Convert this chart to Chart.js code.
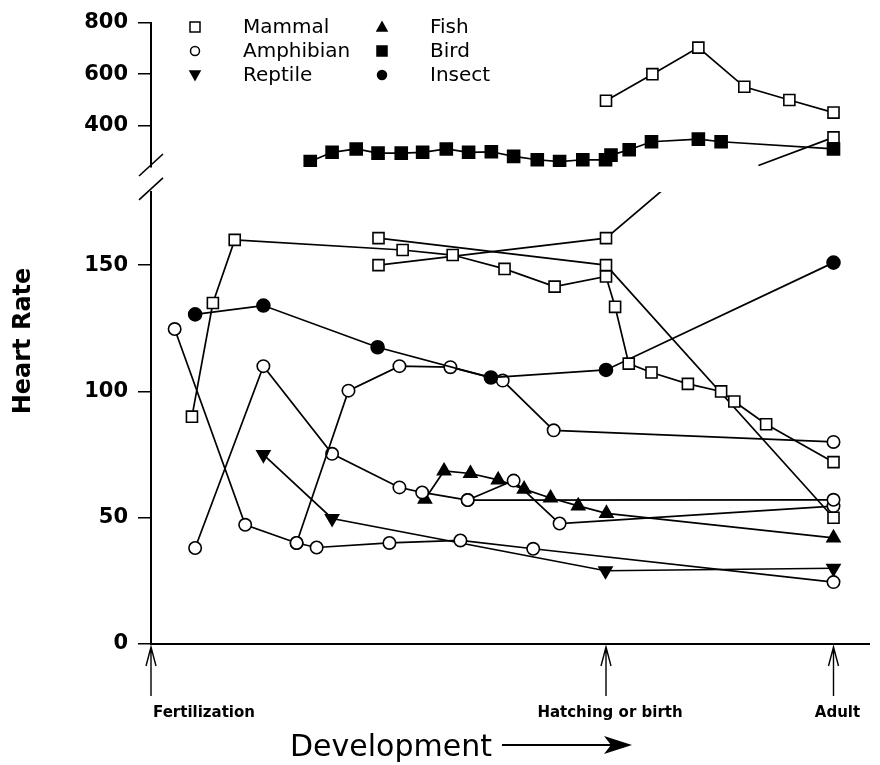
<!DOCTYPE html>
<html>
<head>
<meta charset="utf-8">
<script src="https://cdn.jsdelivr.net/npm/chart.js@4.4.0/dist/chart.umd.min.js"></script>
<style>
html, body { margin: 0; padding: 0; background: #fff; }
#wrap { position: relative; width: 880px; height: 765px; }
</style>
</head>
<body>
<div id="wrap"><canvas id="heartChart"></canvas></div>
<script>
// development axis: fertilization = 0, hatching or birth = 100, adult = 150
const stageNames = ['Fertilization', 'Hatching or birth', 'Adult'];
const stageAt = [0, 100, 150];
const lowerTicks = [0, 50, 100, 150];
const upperTicks = [400, 600, 800];

// [stage, heart rate]
const mammalA = [[9, 90], [13.6, 135], [18.4, 160], [55.3, 156], [66.3, 154], [77.7, 148.5], [88.7, 141.5], [100, 145.5], [102, 133.5], [105, 111], [110, 107.5], [118, 103], [125.3, 100], [128.2, 96], [135.2, 87], [150, 72]];
const mammalB = [[50, 160.7], [100, 150], [150, 50]];
const mammalC = [[50, 150], [100, 160.7], [112.3, 179.5]];
const mammalHigh = [[100, 497], [110.2, 600], [120.3, 703], [130.4, 551], [140.3, 500], [150, 451]];
const mammalHighStub = [[133.5, 246], [150, 355]];
const bird = [[35, 261], [39.8, 297], [45.1, 310], [49.9, 294], [55, 294], [59.7, 297], [64.9, 310], [69.8, 297], [74.8, 299], [79.7, 281], [84.9, 268], [89.8, 261], [94.9, 268], [99.9, 268], [101.1, 286], [105.1, 307], [110, 338], [120.3, 348], [125.3, 338], [150, 310]];
const insect = [[9.7, 130.5], [24.7, 134], [49.8, 117.5], [74.7, 105.5], [100, 108.5], [150, 151]];
const amphA = [[5.2, 124.7], [20.7, 47.2], [32, 40], [36.4, 38.2], [52.4, 40], [68, 41], [84, 37.7], [150, 24.5]];
const amphB = [[32, 40], [43.4, 100.3], [54.6, 110], [65.8, 109.6], [77.3, 104.3], [88.5, 84.6], [150, 80]];
const amphC = [[9.7, 38], [24.7, 110], [39.8, 75.3], [54.6, 62], [59.6, 60], [69.6, 57], [150, 57.1]];
const amphD = [[69.6, 57], [79.7, 64.7], [89.8, 47.7], [150, 54.6]];
const fish = [[60.2, 57.3], [64.4, 68.5], [70.2, 67.5], [76.3, 65], [82, 61.3], [87.8, 57.8], [93.9, 54.7], [100.1, 51.7], [150, 42]];
const reptile = [[24.7, 75], [39.8, 49.7], [99.9, 29], [150, 30]];

const legendCols = [['Mammal', 'Amphibian', 'Reptile'], ['Fish', 'Bird', 'Insect']];

const markers = {
	Mammal: { style: 'rect', radius: 7.8, fill: '#fff', rot: 0 },
	Amphibian: { style: 'circle', radius: 6.2, fill: '#fff', rot: 0 },
	Reptile: { style: 'triangle', radius: 7.5, fill: '#000', rot: 180 },
	Fish: { style: 'triangle', radius: 7.5, fill: '#000', rot: 0 },
	Bird: { style: 'rect', radius: 8.5, fill: '#000', rot: 0 },
	Insect: { style: 'circle', radius: 6.5, fill: '#000', rot: 0 }
};

const FONT = '"DejaVu Sans", "Liberation Sans", Arial, sans-serif';

function series(kind, pts, axis, hidden) {
	const m = markers[kind];
	return {
		label: kind,
		data: pts.map(p => ({ x: p[0], y: p[1] })),
		yAxisID: axis,
		borderColor: '#000',
		borderWidth: 1.7,
		tension: 0,
		fill: false,
		pointStyle: m.style,
		pointRotation: m.rot,
		pointRadius: pts.map((p, i) => (hidden && hidden.includes(i)) ? 0 : m.radius),
		pointHoverRadius: 0,
		pointBackgroundColor: m.fill,
		pointBorderColor: '#000',
		pointBorderWidth: 1.6
	};
}

function tickAxis(list, min, max, weight) {
	return {
		type: 'linear',
		position: 'left',
		stack: 'rate',
		stackWeight: weight,
		min: min,
		max: max,
		afterBuildTicks: s => { s.ticks = list.map(v => ({ value: v })); },
		afterFit: s => { s.width = 80; },
		ticks: { color: '#000', padding: 10, font: { family: FONT, size: 21, weight: 'bold' } },
		grid: { drawOnChartArea: false, drawTicks: true, tickLength: 13, color: '#000', lineWidth: 1.5 },
		border: { display: true, color: '#000', width: 2 }
	};
}

function drawMarker(ctx, kind, x, y, r) {
	const m = markers[kind];
	ctx.save();
	ctx.fillStyle = m.fill;
	ctx.strokeStyle = '#000';
	ctx.lineWidth = 1.5;
	ctx.beginPath();
	if (m.style === 'rect') {
		ctx.rect(x - r, y - r, 2 * r, 2 * r);
	} else if (m.style === 'circle') {
		ctx.arc(x, y, r, 0, Math.PI * 2);
	} else {
		const d = m.rot ? -1 : 1;
		ctx.moveTo(x, y - d * r);
		ctx.lineTo(x - r, y + d * r * 0.8);
		ctx.lineTo(x + r, y + d * r * 0.8);
		ctx.closePath();
	}
	ctx.fill();
	ctx.stroke();
	ctx.restore();
}

const decor = {
	id: 'decor',
	afterDraw(chart) {
		const ctx = chart.ctx;
		const xs = chart.scales.x;
		const gap = chart.scales.gap;
		const axisX = chart.chartArea.left;
		ctx.save();
		ctx.strokeStyle = '#000';
		ctx.fillStyle = '#000';

		// axis break marks
		ctx.lineWidth = 1.6;
		[gap.top - 2, gap.bottom - 3].forEach(cy => {
			ctx.beginPath();
			ctx.moveTo(axisX - 12, cy + 11);
			ctx.lineTo(axisX + 12, cy - 11);
			ctx.stroke();
		});

		// stage arrows and labels
		const base = chart.chartArea.bottom;
		ctx.font = 'bold 15px ' + FONT;
		ctx.textBaseline = 'alphabetic';
		stageAt.forEach((s, i) => {
			const px = xs.getPixelForValue(s);
			ctx.lineWidth = 1.4;
			ctx.beginPath();
			ctx.moveTo(px, base + 3);
			ctx.lineTo(px, base + 52);
			ctx.moveTo(px - 5, base + 22);
			ctx.lineTo(px, base + 3);
			ctx.lineTo(px + 5, base + 22);
			ctx.stroke();
			ctx.textAlign = i === 0 ? 'left' : 'center';
			ctx.fillText(stageNames[i], i === 0 ? px + 2 : px + 4, base + 73);
		});

		// x title with arrow
		ctx.font = '30px ' + FONT;
		ctx.textAlign = 'left';
		ctx.fillText('Development', 290, 756);
		const tx = 290 + ctx.measureText('Development').width + 10;
		ctx.lineWidth = 2;
		ctx.beginPath();
		ctx.moveTo(tx, 745);
		ctx.lineTo(612, 745);
		ctx.stroke();
		ctx.beginPath();
		ctx.moveTo(632, 745);
		ctx.lineTo(604, 736);
		ctx.lineTo(611, 745);
		ctx.lineTo(604, 754);
		ctx.closePath();
		ctx.fill();

		// y title
		ctx.save();
		ctx.translate(24, 341);
		ctx.rotate(-Math.PI / 2);
		ctx.font = 'bold 24px ' + FONT;
		ctx.textAlign = 'center';
		ctx.textBaseline = 'middle';
		ctx.fillText('Heart Rate', 0, 0);
		ctx.restore();

		// legend
		ctx.font = '20px ' + FONT;
		ctx.textBaseline = 'middle';
		ctx.textAlign = 'left';
		const colX = [[195, 243], [382, 430]];
		legendCols.forEach((col, c) => {
			col.forEach((kind, r) => {
				const y = 27 + r * 24;
				drawMarker(ctx, kind, colX[c][0], y, markers[kind].style === 'circle' ? 4.5 : 5);
				ctx.fillStyle = '#000';
				ctx.fillText(kind, colX[c][1], y + 1);
			});
		});
		ctx.restore();
	}
};

new Chart(document.getElementById('heartChart').getContext('2d'), {
	type: 'line',
	data: {
		datasets: [
			series('Mammal', mammalHigh, 'y2'),
			series('Mammal', mammalHighStub, 'y2', [0]),
			series('Bird', bird, 'y2'),
			series('Mammal', mammalA, 'y'),
			series('Mammal', mammalB, 'y'),
			series('Mammal', mammalC, 'y', [2]),
			series('Insect', insect, 'y'),
			series('Amphibian', amphA, 'y'),
			series('Amphibian', amphB, 'y'),
			series('Amphibian', amphC, 'y'),
			series('Amphibian', amphD, 'y'),
			series('Fish', fish, 'y'),
			series('Reptile', reptile, 'y')
		]
	},
	options: {
		responsive: true,
		maintainAspectRatio: false,
		animation: false,
		events: [],
		layout: { padding: { left: 71, top: 20, right: 0, bottom: 121 } },
		plugins: { legend: { display: false }, tooltip: { enabled: false } },
		scales: {
			x: {
				type: 'linear',
				min: 0,
				max: 158,
				ticks: { display: false },
				grid: { display: false, drawTicks: false },
				border: { display: true, color: '#000', width: 2 }
			},
			// stacked axes are placed bottom-up in definition order
			y: tickAxis(lowerTicks, 0, 179, 454),
			gap: {
				type: 'linear',
				position: 'left',
				stack: 'rate',
				stackWeight: 25,
				min: 0,
				max: 1,
				afterFit: s => { s.width = 80; },
				ticks: { display: false },
				grid: { display: false, drawTicks: false },
				border: { display: false }
			},
			y2: tickAxis(upperTicks, 240, 800, 145)
		}
	},
	plugins: [decor]
});
</script>
</body>
</html>
